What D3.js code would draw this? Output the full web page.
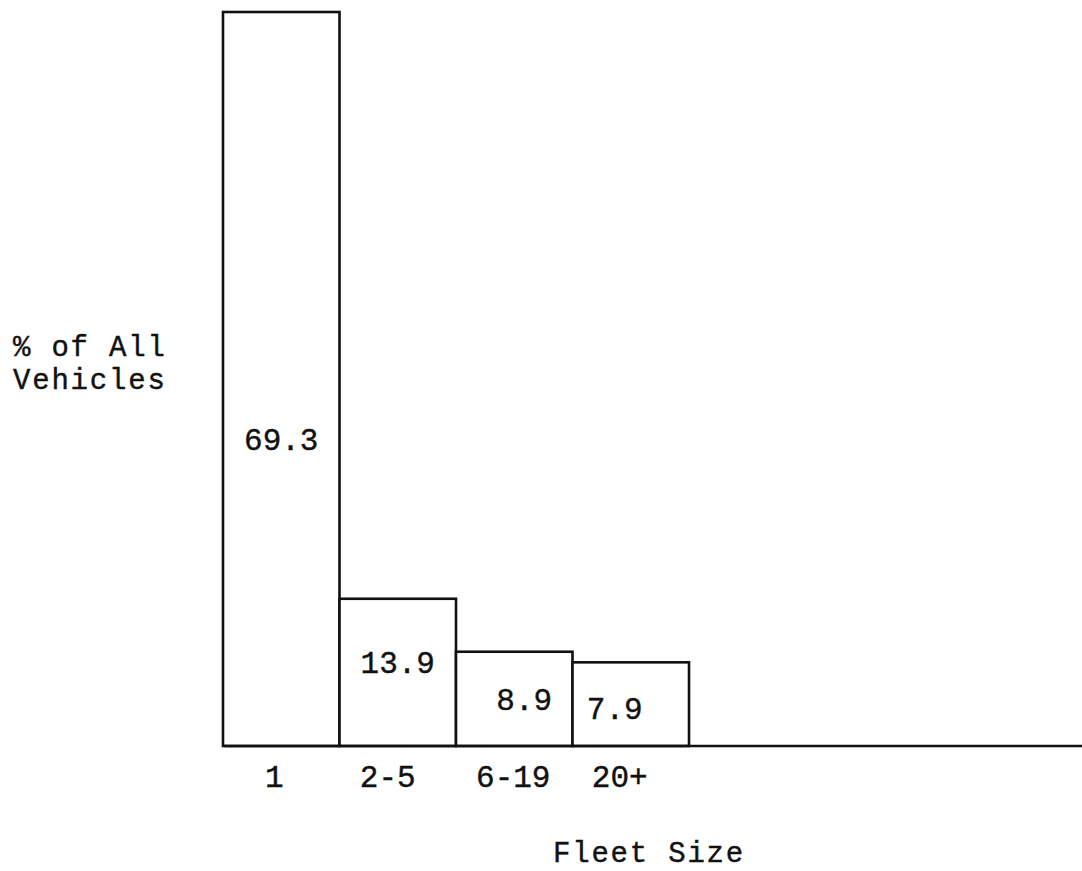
<!DOCTYPE html>
<html>
<head>
<meta charset="utf-8">
<script src="https://cdn.jsdelivr.net/npm/d3@7"></script>
<style>
  html, body { margin: 0; padding: 0; background: #fff; }
  svg { display: block; }
</style>
</head>
<body>
<svg id="chart" width="1082" height="871"></svg>
<script>
// ---- data ----
const categories = ["1", "2-5", "6-19", "20+"];
const values = [69.3, 13.9, 8.9, 7.9];
const valueLabels = ["69.3", "13.9", "8.9", "7.9"];
const yTitle = ["% of All", "Vehicles"];
const xTitle = "Fleet Size";

// ---- layout ----
const W = 1082, H = 871;
const ink = "#111";
const svg = d3.select("#chart");

const x = d3.scaleBand().domain(categories).range([223, 689]).padding(0);
const y = d3.scaleLinear().domain([0, 69.3]).range([746, 12]);

// label nudges (layout only): [dx from bar centre, dy from bar top]
const labelNudge = [[0, 438], [0, 74], [10, 58], [-16, 57]];
const tickNudge = [-7, -10, -1, -11];

// bars
svg.append("g").selectAll("rect")
  .data(values)
  .join("rect")
  .attr("x", (d, i) => x(categories[i]))
  .attr("y", d => y(d))
  .attr("width", x.bandwidth())
  .attr("height", d => y(0) - y(d))
  .attr("fill", "#fff")
  .attr("stroke", ink)
  .attr("stroke-width", 2.6);

// baseline
svg.append("line")
  .attr("x1", 224).attr("x2", W)
  .attr("y1", y(0)).attr("y2", y(0))
  .attr("stroke", ink).attr("stroke-width", 2.6);

const fontFam = "'Liberation Mono', 'Courier New', monospace";

// value labels
svg.append("g").selectAll("text")
  .data(values)
  .join("text")
  .attr("x", (d, i) => x(categories[i]) + x.bandwidth() / 2 + labelNudge[i][0])
  .attr("y", (d, i) => y(d) + labelNudge[i][1])
  .attr("text-anchor", "middle")
  .attr("font-family", fontFam)
  .attr("font-size", 31)
  .attr("fill", ink)
  .attr("stroke", ink).attr("stroke-width", 0.4)
  .text((d, i) => valueLabels[i]);

// x axis
const xAxis = svg.append("g")
  .attr("transform", `translate(0,${y(0)})`)
  .call(d3.axisBottom(x).tickSize(0).tickPadding(0));
xAxis.select(".domain").remove();
xAxis.selectAll("text")
  .attr("dy", 0)
  .attr("y", 41)
  .attr("x", (d, i) => tickNudge[i])
  .attr("font-family", fontFam)
  .attr("font-size", 31)
  .attr("fill", ink)
  .attr("stroke", ink).attr("stroke-width", 0.4);

// y title
const yt = svg.append("text")
  .attr("font-family", fontFam)
  .attr("font-size", 29)
  .attr("letter-spacing", 1.8)
  .attr("fill", ink)
  .attr("stroke", ink).attr("stroke-width", 0.4);
yt.selectAll("tspan")
  .data(yTitle)
  .join("tspan")
  .attr("x", 13)
  .attr("y", (d, i) => 356 + i * 33)
  .text(d => d);

// x title
svg.append("text")
  .attr("x", 553)
  .attr("y", 862)
  .attr("font-family", fontFam)
  .attr("font-size", 29)
  .attr("letter-spacing", 1.8)
  .attr("fill", ink)
  .attr("stroke", ink).attr("stroke-width", 0.4)
  .text(xTitle);
</script>
</body>
</html>
